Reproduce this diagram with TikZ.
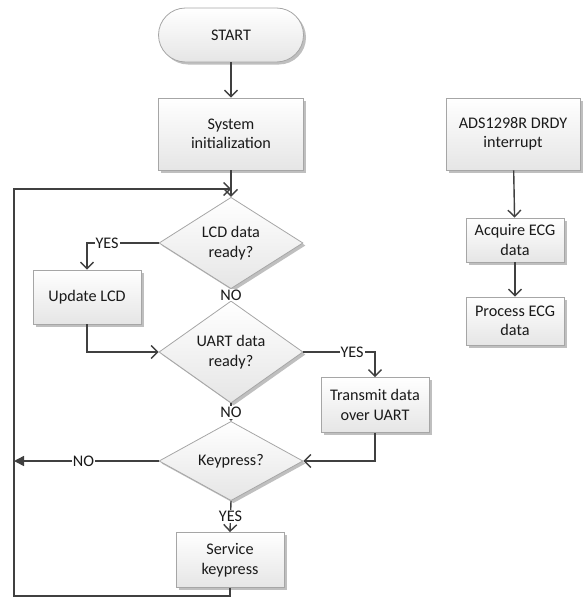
\documentclass[tikz,border=0pt]{standalone}
\usepackage{fontspec}
\setmainfont{Carlito}
\usetikzlibrary{shapes.geometric,shadows,arrows.meta}
\definecolor{lineC}{HTML}{404040}
\definecolor{borderC}{HTML}{A6A6A6}
\definecolor{textC}{HTML}{1A1A1A}
\begin{document}
\begin{tikzpicture}[x=1pt,y=-1pt,
  base/.style={draw=borderC, line width=0.8pt, top color=white, bottom color=black!10,
    drop shadow={shadow xshift=2.5pt,shadow yshift=-2.5pt,opacity=0.25,fill=black},
    font=\fontsize{16.2}{19.5}\selectfont, text=textC, align=center, inner sep=0pt},
  proc/.style={base, rectangle},
  term/.style={base, rectangle, rounded corners=27pt},
  dec/.style={base, diamond, minimum width=144pt, minimum height=70pt},
  conn/.style={draw=lineC, line width=1.4pt},
  arr/.style={conn, -{Straight Barb[length=6.5pt,width=13pt]}},
  lab/.style={fill=white, inner sep=1pt, font=\fontsize{16.2}{19.5}\selectfont, text=textC}
]
\useasboundingbox (0,0) rectangle (582,597);

\node[term, minimum width=145pt, minimum height=54pt] (start) at (231,35) {START};
\node[proc, minimum width=145pt, minimum height=72pt] (init) at (231,134) {System\\initialization};
\node[dec] (lcd) at (231,243) {LCD data\\ready?};
\node[proc, minimum width=108pt, minimum height=54pt] (upd) at (87,297) {Update LCD};
\node[dec] (uart) at (231,352) {UART data\\ready?};
\node[proc, minimum width=108pt, minimum height=55pt] (tx) at (375,405) {Transmit data\\over UART};
\node[dec] (key) at (231,461) {Keypress?};
\node[proc, minimum width=108pt, minimum height=55pt] (svc) at (230,560) {Service\\keypress};

\node[proc, minimum width=134pt, minimum height=72pt] (ads) at (513,134) {ADS1298R DRDY\\interrupt};
\node[proc, minimum width=98pt, minimum height=44pt] (acq) at (515,240) {Acquire ECG\\data};
\node[proc, minimum width=98pt, minimum height=48pt] (prc) at (515,321) {Process ECG\\data};

\coordinate (merge) at (231,189);
\coordinate (keyL) at (14,461);
\coordinate (loopBL) at (14,596);

\draw[arr] (start) -- (init);
\draw[conn] (init) -- (merge);
\draw[arr] (merge) -- (lcd.north);
\draw[arr] (lcd.west) -| node[lab, pos=0.36]{YES} (upd.north);
\draw[arr] (lcd.south) -- node[lab]{NO} (uart.north);
\draw[arr] (upd.south) |- (uart.west);
\draw[arr] (uart.east) -| node[lab, pos=0.34]{YES} (tx.north);
\draw[arr] (uart.south) -- node[lab]{NO} (key.north);
\draw[arr] (tx.south) |- (key.east);
\draw[conn, -{Triangle[length=10pt,width=10pt]}] (key.west) -- node[lab, pos=0.52]{NO} (keyL);
\draw[arr] (key.south) -- node[lab]{YES} (svc.north);
\draw[arr] (svc.south) |- (loopBL) |- (merge);

\draw[arr] (ads) -- (acq);
\draw[arr] (acq) -- (prc);
\end{tikzpicture}
\end{document}
